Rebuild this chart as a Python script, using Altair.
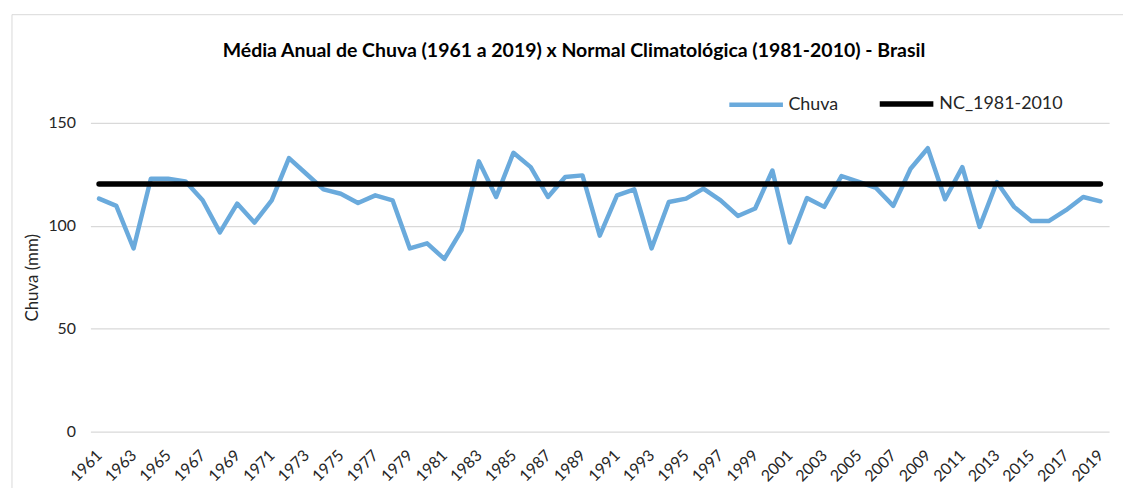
import altair as alt
import pandas as pd

years = list(range(1961, 2020))
chuva = [113.2, 109.7, 89.0, 122.9, 122.9, 121.6, 112.4, 96.8, 110.8, 101.6,
         112.4, 132.9, 125.3, 117.7, 115.6, 111.1, 114.8, 112.4, 89.0, 91.5,
         83.9, 97.9, 131.3, 114.0, 135.5, 128.5, 114.0, 123.7, 124.5, 95.2,
         114.8, 117.7, 89.0, 111.6, 113.2, 118.1, 112.4, 104.8, 108.4, 126.9,
         91.9, 113.5, 109.2, 124.2, 121.3, 118.4, 109.7, 127.7, 137.7, 112.9,
         128.5, 99.5, 121.3, 109.2, 102.3, 102.3, 107.6, 114.0, 111.9]
nc_value = 120.3
series_names = ["Chuva", "NC_1981-2010"]
series_colors = ["#6AAADC", "#000000"]
series_widths = [4.5, 5.5]
label_years = years[::2]
y_ticks = [0, 50, 100, 150]

rows = []
for yr, v in zip(years, chuva):
    rows.append({"year": yr, "value": v, "series": series_names[0]})
for yr in years:
    rows.append({"year": yr, "value": nc_value, "series": series_names[1]})
df = pd.DataFrame(rows)

FONT = "Lato"
W, H = 1026, 311

lines = alt.Chart(df).mark_line(strokeCap="round", strokeJoin="round").encode(
    x=alt.X("year:O", title=None,
            scale=alt.Scale(type="point", padding=0.5),
            axis=alt.Axis(values=label_years, labelAngle=-45, labelAlign="right",
                          labelBaseline="middle", labelPadding=21, labelFontSize=16,
                          labelFont=FONT, labelColor="#262626", domain=False,
                          ticks=False, grid=False)),
    y=alt.Y("value:Q", title="Chuva (mm)",
            scale=alt.Scale(domain=[0, 150], nice=False),
            axis=alt.Axis(values=y_ticks, labelFontSize=16, labelFont=FONT,
                          labelColor="#262626", labelPadding=15, domain=False,
                          ticks=False, gridColor="#d9d9d9", gridWidth=1.3,
                          titleFont=FONT, titleFontSize=17, titleFontWeight="normal",
                          titleColor="#262626", titlePadding=6)),
    color=alt.Color("series:N",
                    scale=alt.Scale(domain=series_names, range=series_colors),
                    legend=alt.Legend(orient="none", legendX=641, legendY=-49,
                                      direction="horizontal", title=None,
                                      symbolType="stroke", symbolSize=2916,
                                      symbolStrokeWidth=5, labelFont=FONT,
                                      labelFontSize=18, labelColor="#262626",
                                      labelOffset=3, columnPadding=30, padding=0)),
    strokeWidth=alt.StrokeWidth("series:N",
                                scale=alt.Scale(domain=series_names, range=series_widths),
                                legend=None),
)

border = alt.Chart(alt.Data(values=[{}])).mark_rect(
    fillOpacity=0, stroke="#d9d9d9", strokeWidth=1
).encode(
    x=alt.value(-79), y=alt.value(-109), x2=alt.value(1060), y2=alt.value(400)
)

chart = alt.layer(border, lines).properties(
    width=W, height=H,
    title=alt.TitleParams(
        "Média Anual de Chuva (1961 a 2019) x Normal Climatológica (1981-2010) - Brasil",
        font=FONT, fontSize=19.6, fontWeight="bold", color="#000000",
        anchor="middle", offset=-48, dx=-26),
    autosize=alt.AutoSizeParams(type="none"),
    padding={"left": 83, "top": 114, "right": 14, "bottom": 55},
).configure_view(stroke=None)

chart.save("out.html", embed_options={"renderer": "svg", "actions": False})
